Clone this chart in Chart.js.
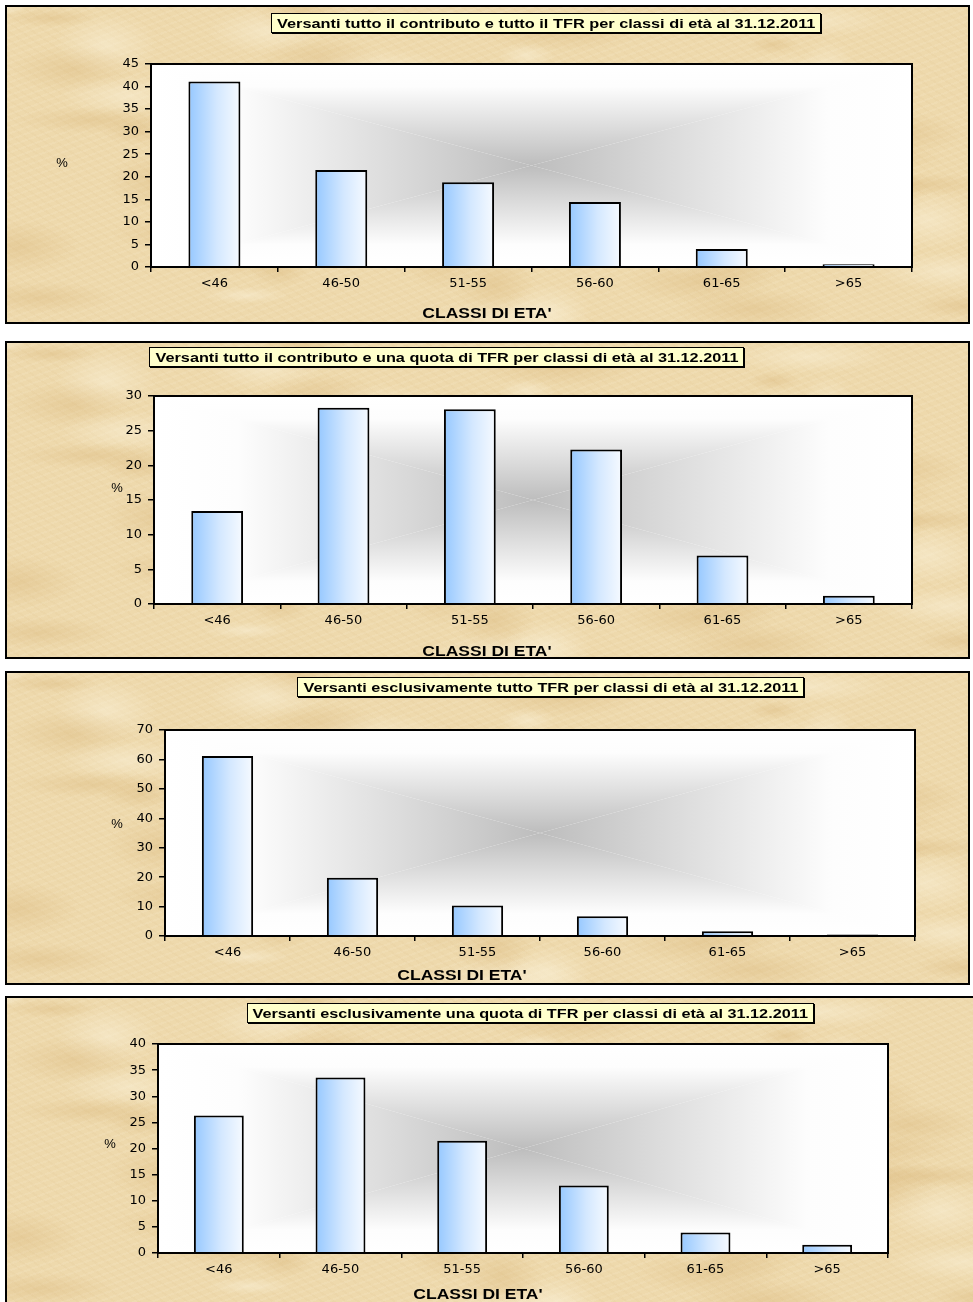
<!DOCTYPE html>
<html>
<head>
<meta charset="utf-8">
<script src="https://cdn.jsdelivr.net/npm/chart.js@4/dist/chart.umd.min.js"></script>
<style>
  body { margin: 0; background: #fff; width: 973px; height: 1302px; overflow: hidden; position: relative; }
  .pannello {
    position: absolute;
    box-sizing: border-box;
    border: 2px solid #000;
    background-color: #eed9ac;
  }
  .pannello canvas { position: absolute; left: 0; top: 0; }
  .titolo {
    position: absolute;
    box-sizing: border-box;
    background: #ffffcc;
    border: 1px solid #000;
    box-shadow: 1px 1px 0 #000;
    font: bold 13px "Liberation Sans", Arial, sans-serif;
    color: #000;
    display: flex; align-items: center; justify-content: center;
    white-space: nowrap;
    overflow: visible;
  }
  .titolo span { display: inline-block; transform-origin: 50% 50%; }
  .etichetta {
    position: absolute;
    font: 13px "Liberation Sans", Arial, sans-serif;
    color: #000;
    transform: translate(-50%, -50%);
    white-space: nowrap;
  }
  .etichetta.asse-x { font-weight: bold; font-size: 14px; transform: translate(-50%, -50%) scaleX(1.25); }
</style>
</head>
<body>
<script>
// Dati dei grafici (percentuali per classe di età)
const categorie = ['<46', '46-50', '51-55', '56-60', '61-65', '>65'];
const titoli = [
  'Versanti tutto il contributo e tutto il TFR per classi di età al 31.12.2011',
  'Versanti tutto il contributo e una quota di TFR per classi di età al 31.12.2011',
  'Versanti esclusivamente tutto TFR per classi di età al 31.12.2011',
  'Versanti esclusivamente una quota di TFR per classi di età al 31.12.2011'
];
const contributoTuttoTfr = [41.1, 21.5, 18.8, 14.4, 4.0, 0.6];
const contributoQuotaTfr = [13.4, 28.3, 28.1, 22.3, 7.0, 1.2];
const soloTuttoTfr = [61.2, 19.8, 10.4, 6.7, 1.6, 0.5];
const soloQuotaTfr = [26.3, 33.6, 21.5, 12.9, 3.9, 1.6];
const serie = [contributoTuttoTfr, contributoQuotaTfr, soloTuttoTfr, soloQuotaTfr];
const yMax = [45, 30, 70, 40];
const yPasso = [5, 5, 10, 5];
const etichettaY = '%';
const etichettaX = "CLASSI DI ETA'";

// Posizioni nella pagina (box esterno, area del grafico, riquadro titolo, etichette)
const layout = [
  { box: [5, 5, 970, 324],     area: [151, 64, 912, 267],    tit: [271, 13, 821, 33],    pct: [62, 162],  asse: [487, 313] },
  { box: [5, 341, 970, 659],   area: [154, 396, 912, 604],   tit: [149, 347, 744, 367],  pct: [117, 487], asse: [487, 651] },
  { box: [5, 671, 970, 985],   area: [165, 730, 915, 936],   tit: [297, 677, 804, 697],  pct: [117, 823], asse: [462, 975] },
  { box: [5, 996, 985, 1315],  area: [158, 1044, 888, 1253], tit: [247, 1003, 814, 1023], pct: [110, 1143], asse: [478, 1294] }
];

const LARGHEZZA_BARRA = 0.41;
const fontTick = { family: 'DejaVu Sans', size: 13 };

// Texture "pergamena" dello sfondo dei pannelli (solo decorazione)
function pergamena() {
  const strati = [];
  for (let k = 0; k < 56; k++) {
    const x = (k * 61.803) % 100;
    const y = (k * 27.18 + (k % 5) * 13) % 100;
    const w = 30 + (k * 37) % 100;
    const hh = 12 + (k * 23) % 36;
    const scuro = k % 3 !== 0;
    const col = scuro ? 'rgba(214,178,116,0.34)' : 'rgba(250,240,214,0.55)';
    strati.push(`radial-gradient(ellipse ${w}px ${hh}px at ${x.toFixed(1)}% ${y.toFixed(1)}%, ${col}, transparent 70%)`);
  }
  strati.push('repeating-linear-gradient(35deg, rgba(200,160,100,.05) 0 2px, transparent 2px 7px)');
  strati.push('repeating-linear-gradient(-20deg, rgba(255,248,230,.10) 0 2px, transparent 2px 6px)');
  return strati.join(',');
}
const texture = pergamena();

// Sfondo grigio sfumato dal centro dell'area del grafico
const sfondoArea = {
  id: 'sfondoArea',
  beforeDraw(chart) {
    const { ctx, chartArea: a } = chart;
    const cx = (a.left + a.right) / 2, cy = (a.top + a.bottom) / 2;
    ctx.save();
    ctx.fillStyle = '#fff';
    ctx.fillRect(a.left, a.top, a.right - a.left, a.bottom - a.top);
    const triangolo = (p1, p2, g0) => {
      const g = ctx.createLinearGradient(g0[0], g0[1], cx, cy);
      g.addColorStop(0, '#ffffff');
      g.addColorStop(0.22, '#fdfdfd');
      g.addColorStop(0.65, '#dadada');
      g.addColorStop(1, '#bdbdbd');
      ctx.fillStyle = g;
      ctx.beginPath();
      ctx.moveTo(p1[0], p1[1]);
      ctx.lineTo(p2[0], p2[1]);
      ctx.lineTo(cx, cy);
      ctx.closePath();
      ctx.fill();
    };
    triangolo([a.left, a.top], [a.right, a.top], [cx, a.top]);
    triangolo([a.left, a.bottom], [a.right, a.bottom], [cx, a.bottom]);
    triangolo([a.left, a.top], [a.left, a.bottom], [a.left, cy]);
    triangolo([a.right, a.top], [a.right, a.bottom], [a.right, cy]);
    ctx.restore();
  },
  afterDraw(chart) {
    const { ctx, chartArea: a } = chart;
    ctx.save();
    ctx.strokeStyle = '#000';
    ctx.lineWidth = 2;
    ctx.strokeRect(a.left, a.top, a.right - a.left, a.bottom - a.top);
    ctx.restore();
  }
};

// Riempimento delle barre: azzurro a sinistra, quasi bianco a destra
function coloreBarra(context) {
  const chart = context.chart;
  if (!chart.chartArea || context.dataIndex === undefined) return '#c6e0ff';
  const xs = chart.scales.x;
  const passo = xs.width / categorie.length;
  const centro = xs.getPixelForValue(context.dataIndex);
  const meta = passo * LARGHEZZA_BARRA / 2;
  const g = chart.ctx.createLinearGradient(centro - meta, 0, centro + meta, 0);
  g.addColorStop(0, '#96c8ff');
  g.addColorStop(0.55, '#d4e8ff');
  g.addColorStop(1, '#f6faff');
  return g;
}

function aggiungi(tag, classe, testo, stile, padre) {
  const el = document.createElement(tag);
  if (classe) el.className = classe;
  if (testo) el.textContent = testo;
  Object.assign(el.style, stile || {});
  (padre || document.body).appendChild(el);
  return el;
}

serie.forEach((valori, i) => {
  const L = layout[i];
  const [bl, bt, br, bb] = L.box;
  const [al, at, ar, ab] = L.area;

  const pannello = aggiungi('div', 'pannello', null, {
    left: bl + 'px', top: bt + 'px', width: (br - bl) + 'px', height: (bb - bt) + 'px',
    backgroundImage: texture
  });
  const canvas = document.createElement('canvas');
  const w = br - bl - 4, h = bb - bt - 4;
  canvas.width = w; canvas.height = h;
  canvas.style.width = w + 'px'; canvas.style.height = h + 'px';
  pannello.appendChild(canvas);

  // origine della canvas nella pagina
  const ox = bl + 2, oy = bt + 2;

  new Chart(canvas, {
    type: 'bar',
    data: {
      labels: categorie,
      datasets: [{
        data: valori,
        backgroundColor: coloreBarra,
        borderColor: '#000',
        borderWidth: 2,
        barPercentage: LARGHEZZA_BARRA,
        categoryPercentage: 1
      }]
    },
    options: {
      responsive: false,
      animation: false,
      devicePixelRatio: 1,
      layout: { padding: { left: 0, top: at - oy, right: (ox + w) - ar, bottom: 0 } },
      plugins: { legend: { display: false }, tooltip: { enabled: false } },
      scales: {
        x: {
          offset: true,
          grid: { drawOnChartArea: false, offset: true, color: '#000', lineWidth: 1.5, tickLength: 5 },
          border: { color: '#000', width: 2 },
          ticks: { color: '#000', padding: 4, font: fontTick, maxRotation: 0 },
          afterFit(scale) { scale.height = (oy + h) - ab; }
        },
        y: {
          min: 0,
          max: yMax[i],
          grid: { drawOnChartArea: false, color: '#000', lineWidth: 1.5, tickLength: 6 },
          border: { color: '#000', width: 2 },
          ticks: { stepSize: yPasso[i], color: '#000', padding: 6, font: fontTick },
          afterFit(scale) { scale.width = al - ox; }
        }
      }
    },
    plugins: [sfondoArea]
  });

  // riquadro del titolo, testo allargato per riempire il box come nell'originale
  const [tl, tt, tr, tb] = L.tit;
  const box = aggiungi('div', 'titolo', null, {
    left: tl + 'px', top: tt + 'px', width: (tr - tl) + 'px', height: (tb - tt) + 'px'
  });
  const span = aggiungi('span', null, titoli[i], null, box);
  const k = (tr - tl - 12) / span.offsetWidth;
  span.style.transform = `scaleX(${k.toFixed(3)})`;

  aggiungi('div', 'etichetta', etichettaY, { left: L.pct[0] + 'px', top: L.pct[1] + 'px' });
  aggiungi('div', 'etichetta asse-x', etichettaX, { left: L.asse[0] + 'px', top: L.asse[1] + 'px' });
});
</script>
</body>
</html>
